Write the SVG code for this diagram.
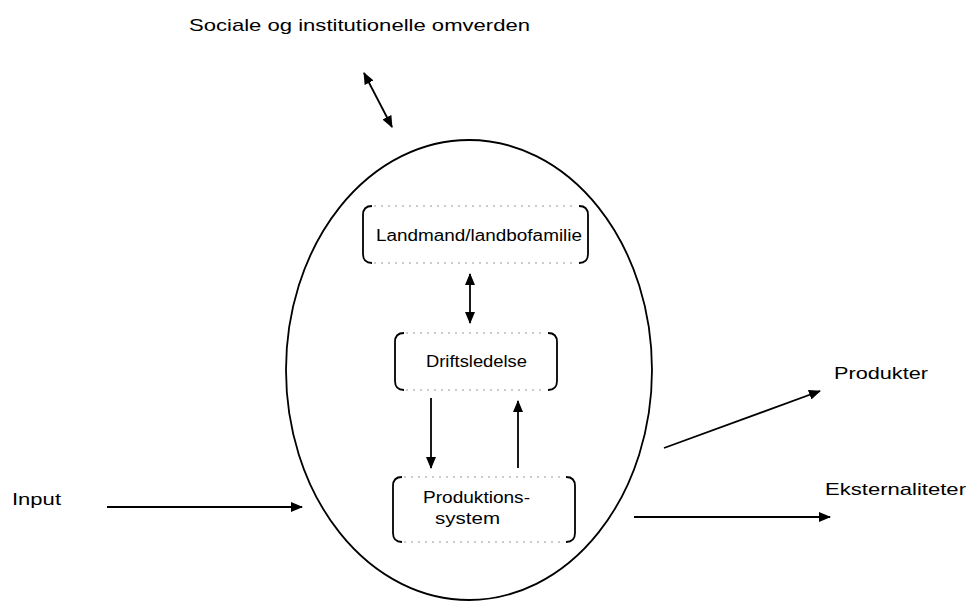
<svg xmlns="http://www.w3.org/2000/svg" width="966" height="601" viewBox="0 0 966 601">
<style>
text{font-family:"Liberation Sans",Arial,sans-serif;fill:#000}
.outer{font-size:17px}
.inner{font-size:16px}
.br{fill:none;stroke:#000;stroke-width:1.8}
.dot{fill:none;stroke:#999;stroke-width:1;stroke-dasharray:2 5}
.ln{fill:none;stroke:#000;stroke-width:1.8}
</style>
<defs>
<marker id="ah" viewBox="0 0 12 10" refX="11" refY="5" markerWidth="12" markerHeight="10" markerUnits="userSpaceOnUse" orient="auto-start-reverse">
<path d="M0,0 L12,5 L0,10 z" fill="#000"/>
</marker>
</defs>
<rect width="966" height="601" fill="#fff"/>
<g id="farm-ellipse">
<ellipse cx="469" cy="370" rx="183" ry="230" fill="none" stroke="#000" stroke-width="1.8"/>
</g>
<g id="title">
<text class="outer" x="189" y="31" textLength="341" lengthAdjust="spacingAndGlyphs">Sociale og institutionelle omverden</text>
</g>
<g id="landmand">
<path class="br" d="M372,206 Q363,206 363,215 L363,254 Q363,263 372,263"/>
<path class="br" d="M579,206 Q588,206 588,215 L588,254 Q588,263 579,263"/>
<path class="dot" d="M374,206 L577,206 M374,263 L577,263"/>
<text class="inner" x="376" y="241" textLength="206" lengthAdjust="spacingAndGlyphs">Landmand/landbofamilie</text>
</g>
<g id="driftsledelse">
<path class="br" d="M404,333 Q395,333 395,342 L395,381 Q395,390 404,390"/>
<path class="br" d="M548,333 Q557,333 557,342 L557,381 Q557,390 548,390"/>
<path class="dot" d="M406,333 L546,333 M406,390 L546,390"/>
<text class="inner" x="426" y="367" textLength="101" lengthAdjust="spacingAndGlyphs">Driftsledelse</text>
</g>
<g id="produktionssystem">
<path class="br" d="M402,477 Q393,477 393,486 L393,533 Q393,542 402,542"/>
<path class="br" d="M566,477 Q575,477 575,486 L575,533 Q575,542 566,542"/>
<path class="dot" d="M404,477 L564,477 M404,542 L564,542"/>
<text class="inner" x="423" y="503" textLength="107" lengthAdjust="spacingAndGlyphs">Produktions-</text>
<text class="inner" x="435" y="524" textLength="65" lengthAdjust="spacingAndGlyphs">system</text>
</g>
<g id="input">
<text class="outer" x="12" y="505" textLength="49" lengthAdjust="spacingAndGlyphs">Input</text>
</g>
<g id="produkter">
<text class="outer" x="834" y="379" textLength="94" lengthAdjust="spacingAndGlyphs">Produkter</text>
</g>
<g id="eksternaliteter">
<text class="outer" x="825" y="495" textLength="141" lengthAdjust="spacingAndGlyphs">Eksternaliteter</text>
</g>
<g id="connectors">
<line class="ln" x1="364" y1="73" x2="392" y2="127" marker-start="url(#ah)" marker-end="url(#ah)"/>
<line class="ln" x1="470" y1="274" x2="470" y2="323" marker-start="url(#ah)" marker-end="url(#ah)"/>
<line class="ln" x1="431" y1="398" x2="431" y2="468" marker-end="url(#ah)"/>
<line class="ln" x1="518" y1="468" x2="518" y2="401" marker-end="url(#ah)"/>
<line class="ln" x1="107" y1="507" x2="302" y2="507" marker-end="url(#ah)"/>
<line class="ln" x1="664" y1="448" x2="820" y2="391" marker-end="url(#ah)"/>
<line class="ln" x1="634" y1="517" x2="830" y2="517" marker-end="url(#ah)"/>
</g>
</svg>
